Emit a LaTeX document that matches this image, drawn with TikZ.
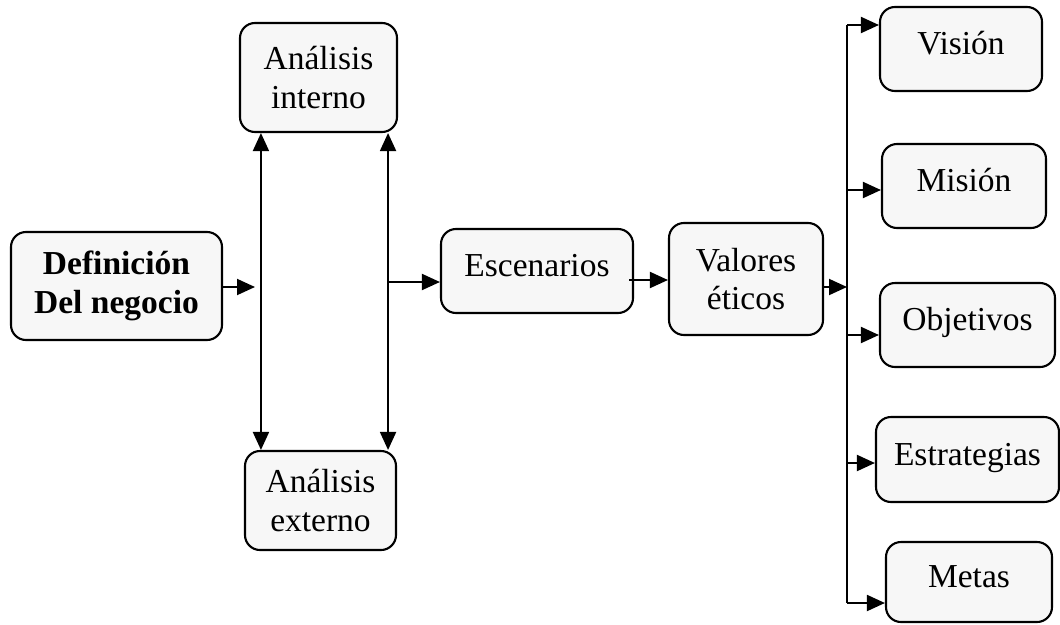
\documentclass[tikz,border=0pt]{standalone}
\usepackage{fontspec}
\setmainfont{Liberation Serif}
\usetikzlibrary{arrows.meta}
\begin{document}
\begin{tikzpicture}[x=1pt,y=-1pt,
  box/.style={draw=black, line width=2.1pt, rounded corners=15pt, fill=black!3,
    inner sep=0pt, font=\fontsize{33.5}{38.5}\selectfont, align=center},
  one/.style={text height=25pt, text depth=8.4pt+5pt},
  arr/.style={line width=1.9pt, -{Triangle[length=18pt,width=16pt]}},
  darr/.style={line width=1.9pt, {Triangle[length=18pt,width=16pt]}-{Triangle[length=18pt,width=16pt]}},
  bus/.style={line width=1.9pt}]
\useasboundingbox (0,0) rectangle (1060,624);
% nodes
\node[box, minimum width=211pt, minimum height=108pt, font=\fontsize{33.5}{38.5}\selectfont\bfseries] (def) at (116.5,286) {Definición\\Del negocio};
\node[box, minimum width=157pt, minimum height=109pt] (ai) at (318.5,77.5) {Análisis\\interno};
\node[box, minimum width=151pt, minimum height=99pt] (ae) at (320.5,500.5) {Análisis\\externo};
\node[box, one, minimum width=192pt, minimum height=84pt] (esc) at (537,271) {Escenarios};
\node[box, minimum width=154pt, minimum height=112pt] (val) at (746,279) {Valores\\éticos};
\node[box, one, minimum width=162pt, minimum height=84pt] (vis) at (961,49) {Visión};
\node[box, one, minimum width=164pt, minimum height=84pt] (mis) at (964,186) {Misión};
\node[box, one, minimum width=175pt, minimum height=84pt] (obj) at (967.5,325) {Objetivos};
\node[box, one, minimum width=183pt, minimum height=85pt] (est) at (967.5,459.5) {Estrategias};
\node[box, one, minimum width=166pt, minimum height=80pt] (met) at (969,582) {Metas};
% coordinates
\coordinate (defend) at (255,287);
\coordinate (rj) at (387,282);
\coordinate (bj) at (847,287);
\coordinate (btop) at (847,25);
\coordinate (bbot) at (847,603);
\coordinate (bmis) at (847,190);
\coordinate (bobj) at (847,335);
\coordinate (best) at (847,463);
% connectors
\draw[arr] (def.east |- defend) -- (defend);
\draw[darr] ([xshift=22pt]ai.south west) -- ([xshift=17pt]ae.north west);
\draw[darr] ([xshift=-10pt]ai.south east) -- ([xshift=-9pt]ae.north east);
\draw[arr] (rj) -- (rj -| esc.west);
\draw[arr] ([xshift=-5pt,yshift=-9pt]esc.east) -- ([yshift=-9pt]esc.east -| val.west);
\draw[arr] (val.east |- bj) -- (bj);
\draw[bus] (btop) -- (bbot);
\draw[arr] (btop) -- (btop -| vis.west);
\draw[arr] (bmis) -- (bmis -| mis.west);
\draw[arr] (bobj) -- (bobj -| obj.west);
\draw[arr] (best) -- (best -| est.west);
\draw[arr] (bbot) -- (bbot -| met.west);
\end{tikzpicture}
\end{document}
